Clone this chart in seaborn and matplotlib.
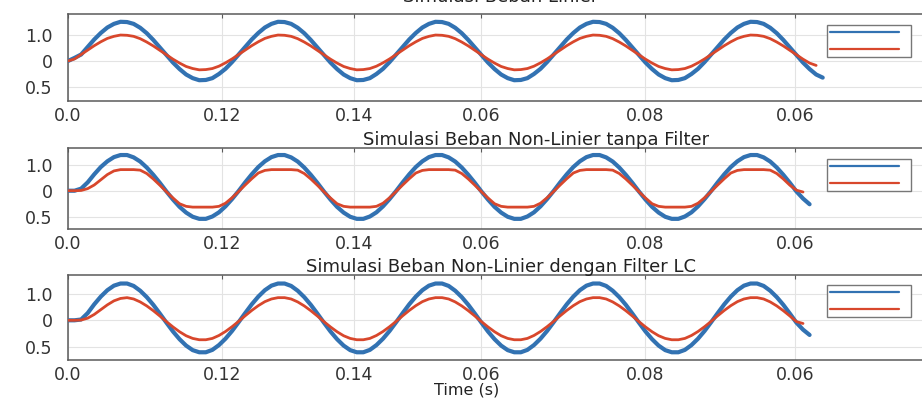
import matplotlib
matplotlib.use("Agg")
import matplotlib.pyplot as plt
from matplotlib.lines import Line2D
import seaborn as sns
import pandas as pd

# ---------------- data ----------------
time_ms = [0, 0.833, 1.667, 2.5, 3.333, 4.167, 5, 5.833, 6.667, 7.5, 8.333, 9.167,
           10, 10.833, 11.667, 12.5, 13.333, 14.167, 15, 15.833, 16.667, 17.5, 18.333, 19.167,
           20, 20.833, 21.667, 22.5, 23.333, 24.167, 25, 25.833, 26.667, 27.5, 28.333, 29.167,
           30, 30.833, 31.667, 32.5, 33.333, 34.167, 35, 35.833, 36.667, 37.5, 38.333, 39.167,
           40, 40.833, 41.667, 42.5, 43.333, 44.167, 45, 45.833, 46.667, 47.5, 48.333, 49.167,
           50, 50.833, 51.667, 52.5, 53.333, 54.167, 55, 55.833, 56.667, 57.5, 58.333, 59.167,
           60, 60.833, 61.667, 62.5, 63.333, 64.167, 65, 65.833, 66.667, 67.5, 68.333, 69.167,
           70, 70.833, 71.667, 72.5, 73.333, 74.167, 75, 75.833, 76.667, 77.5, 78.333, 79.167,
           80, 80.833, 81.667, 82.5, 83.333, 84.167, 85, 85.833, 86.667, 87.5, 88.333, 89.167,
           90, 90.833, 91.667, 92.5, 93.333, 94.167, 95, 95.833, 96.667, 97.5, 98.333, 99.167]

# Panel 1 - Simulasi Beban Linier
p1_blue = [0.0, 0.12, 0.25, 0.54, 0.83, 1.08, 1.29, 1.43, 1.51, 1.50, 1.43, 1.28,
           1.07, 0.81, 0.52, 0.23, -0.06, -0.31, -0.52, -0.66, -0.74, -0.73, -0.66, -0.50,
           -0.30, -0.04, 0.25, 0.54, 0.83, 1.08, 1.29, 1.43, 1.51, 1.50, 1.43, 1.28,
           1.07, 0.81, 0.52, 0.23, -0.06, -0.31, -0.52, -0.66, -0.74, -0.73, -0.66, -0.50,
           -0.30, -0.04, 0.25, 0.54, 0.83, 1.08, 1.29, 1.43, 1.51, 1.50, 1.43, 1.28,
           1.07, 0.81, 0.52, 0.23, -0.06, -0.31, -0.52, -0.66, -0.74, -0.73, -0.66, -0.50,
           -0.30, -0.04, 0.25, 0.54, 0.83, 1.08, 1.29, 1.43, 1.51, 1.50, 1.43, 1.28,
           1.07, 0.81, 0.52, 0.23, -0.06, -0.31, -0.52, -0.66, -0.74, -0.73, -0.66, -0.50,
           -0.30, -0.04, 0.25, 0.54, 0.83, 1.08, 1.29, 1.43, 1.51, 1.50, 1.43, 1.28,
           1.07, 0.81, 0.52, 0.23, -0.06, -0.31, -0.52, -0.64]
p1_red = [0.0, 0.08, 0.25, 0.42, 0.59, 0.74, 0.87, 0.95, 1.00, 0.99, 0.95, 0.86,
          0.73, 0.58, 0.41, 0.24, 0.07, -0.08, -0.21, -0.29, -0.34, -0.33, -0.29, -0.20,
          -0.07, 0.08, 0.25, 0.42, 0.59, 0.74, 0.87, 0.95, 1.00, 0.99, 0.95, 0.86,
          0.73, 0.58, 0.41, 0.24, 0.07, -0.08, -0.21, -0.29, -0.34, -0.33, -0.29, -0.20,
          -0.07, 0.08, 0.25, 0.42, 0.59, 0.74, 0.87, 0.95, 1.00, 0.99, 0.95, 0.86,
          0.73, 0.58, 0.41, 0.24, 0.07, -0.08, -0.21, -0.29, -0.34, -0.33, -0.29, -0.20,
          -0.07, 0.08, 0.25, 0.42, 0.59, 0.74, 0.87, 0.95, 1.00, 0.99, 0.95, 0.86,
          0.73, 0.58, 0.41, 0.24, 0.07, -0.08, -0.21, -0.29, -0.34, -0.33, -0.29, -0.20,
          -0.07, 0.08, 0.25, 0.42, 0.59, 0.74, 0.87, 0.95, 1.00, 0.99, 0.95, 0.86,
          0.73, 0.58, 0.41, 0.24, 0.07, -0.08, -0.17]

# Panel 2 - Non-Linier tanpa Filter
p2_blue = [0.0, 0.0, 0.08, 0.32, 0.63, 0.91, 1.13, 1.29, 1.37, 1.37, 1.28, 1.12,
           0.89, 0.61, 0.30, -0.03, -0.34, -0.62, -0.84, -1.00, -1.08, -1.08, -0.99, -0.83,
           -0.60, -0.32, -0.01, 0.32, 0.63, 0.91, 1.13, 1.29, 1.37, 1.37, 1.28, 1.12,
           0.89, 0.61, 0.30, -0.03, -0.34, -0.62, -0.84, -1.00, -1.08, -1.08, -0.99, -0.83,
           -0.60, -0.32, -0.01, 0.32, 0.63, 0.91, 1.13, 1.29, 1.37, 1.37, 1.28, 1.12,
           0.89, 0.61, 0.30, -0.03, -0.34, -0.62, -0.84, -1.00, -1.08, -1.08, -0.99, -0.83,
           -0.60, -0.32, -0.01, 0.32, 0.63, 0.91, 1.13, 1.29, 1.37, 1.37, 1.28, 1.12,
           0.89, 0.61, 0.30, -0.03, -0.34, -0.62, -0.84, -1.00, -1.08, -1.08, -0.99, -0.83,
           -0.60, -0.32, -0.01, 0.32, 0.63, 0.91, 1.13, 1.29, 1.37, 1.37, 1.28, 1.12,
           0.89, 0.61, 0.30, -0.03, -0.30, -0.52]
p2_red = [0.0, 0.0, 0.01, 0.08, 0.22, 0.42, 0.62, 0.76, 0.81, 0.81, 0.81, 0.79,
          0.66, 0.45, 0.21, -0.04, -0.28, -0.50, -0.60, -0.63, -0.63, -0.63, -0.63, -0.60,
          -0.48, -0.27, -0.03, 0.22, 0.46, 0.68, 0.78, 0.81, 0.81, 0.81, 0.81, 0.79,
          0.66, 0.45, 0.21, -0.04, -0.28, -0.50, -0.60, -0.63, -0.63, -0.63, -0.63, -0.60,
          -0.48, -0.27, -0.03, 0.22, 0.46, 0.68, 0.78, 0.81, 0.81, 0.81, 0.81, 0.79,
          0.66, 0.45, 0.21, -0.04, -0.28, -0.50, -0.60, -0.63, -0.63, -0.63, -0.63, -0.60,
          -0.48, -0.27, -0.03, 0.22, 0.46, 0.68, 0.78, 0.81, 0.81, 0.81, 0.81, 0.79,
          0.66, 0.45, 0.21, -0.04, -0.28, -0.50, -0.60, -0.63, -0.63, -0.63, -0.63, -0.60,
          -0.48, -0.27, -0.03, 0.22, 0.46, 0.68, 0.78, 0.81, 0.81, 0.81, 0.81, 0.79,
          0.66, 0.45, 0.21, 0.02, -0.05]

# Panel 3 - Non-Linier dengan Filter LC
p3_blue = [0.0, 0.0, 0.03, 0.27, 0.60, 0.89, 1.13, 1.30, 1.38, 1.38, 1.29, 1.11,
           0.87, 0.58, 0.25, -0.09, -0.42, -0.71, -0.95, -1.12, -1.20, -1.20, -1.11, -0.93,
           -0.69, -0.40, -0.07, 0.27, 0.60, 0.89, 1.13, 1.30, 1.38, 1.38, 1.29, 1.11,
           0.87, 0.58, 0.25, -0.09, -0.42, -0.71, -0.95, -1.12, -1.20, -1.20, -1.11, -0.93,
           -0.69, -0.40, -0.07, 0.27, 0.60, 0.89, 1.13, 1.30, 1.38, 1.38, 1.29, 1.11,
           0.87, 0.58, 0.25, -0.09, -0.42, -0.71, -0.95, -1.12, -1.20, -1.20, -1.11, -0.93,
           -0.69, -0.40, -0.07, 0.27, 0.60, 0.89, 1.13, 1.30, 1.38, 1.38, 1.29, 1.11,
           0.87, 0.58, 0.25, -0.09, -0.42, -0.71, -0.95, -1.12, -1.20, -1.20, -1.11, -0.93,
           -0.69, -0.40, -0.07, 0.27, 0.60, 0.89, 1.13, 1.30, 1.38, 1.38, 1.29, 1.11,
           0.87, 0.58, 0.25, -0.09, -0.35, -0.55]
p3_red = [0.0, 0.0, 0.01, 0.08, 0.22, 0.40, 0.58, 0.73, 0.82, 0.85, 0.80, 0.69,
          0.54, 0.36, 0.16, -0.05, -0.25, -0.43, -0.58, -0.68, -0.73, -0.73, -0.68, -0.57,
          -0.42, -0.24, -0.04, 0.17, 0.37, 0.55, 0.70, 0.80, 0.85, 0.85, 0.80, 0.69,
          0.54, 0.36, 0.16, -0.05, -0.25, -0.43, -0.58, -0.68, -0.73, -0.73, -0.68, -0.57,
          -0.42, -0.24, -0.04, 0.17, 0.37, 0.55, 0.70, 0.80, 0.85, 0.85, 0.80, 0.69,
          0.54, 0.36, 0.16, -0.05, -0.25, -0.43, -0.58, -0.68, -0.73, -0.73, -0.68, -0.57,
          -0.42, -0.24, -0.04, 0.17, 0.37, 0.55, 0.70, 0.80, 0.85, 0.85, 0.80, 0.69,
          0.54, 0.36, 0.16, -0.05, -0.25, -0.43, -0.58, -0.68, -0.73, -0.73, -0.68, -0.57,
          -0.42, -0.24, -0.04, 0.17, 0.37, 0.55, 0.70, 0.80, 0.85, 0.85, 0.80, 0.69,
          0.54, 0.36, 0.16, -0.05, -0.12]

titles = ["Simulasi Beban Linier",
          "Simulasi Beban Non-Linier tanpa Filter",
          "Simulasi Beban Non-Linier dengan Filter LC"]
xtick_pos = [0.0, 0.01956, 0.03632, 0.05244, 0.07327, 0.09232]
xtick_labels = ["0.0", "0.12", "0.14", "0.06", "0.08", "0.06"]
ytick_pos = [1, 0, -1]
ytick_labels = ["1.0", "0", "0.5"]
x_label = "Time (s)"

# ---------------- style ----------------
sns.set_theme(style="whitegrid")
plt.rcParams["font.family"] = ["DejaVu Sans"]
BLUE = "#3272b2"
RED = "#d8472c"
SPINE = "#5a5a5a"
TXT = "#333333"

W, H = 922, 399
fig = plt.figure(figsize=(W / 100, H / 100), dpi=100)
fig.patch.set_facecolor("white")

boxes = [(14, 101), (148, 229), (275, 360)]          # (top, bottom) in px
ylims = [(-1.54, 1.81), (-1.47, 1.64), (-1.49, 1.70)]
left_px, right_px = 68, 952
xmax = 0.11225
title_x = [0.489, 0.530, 0.49]
title_pad = [8.6, 2.5, 2.5]
legend_tops = [25, 159, 285]

series = [(p1_blue, p1_red), (p2_blue, p2_red), (p3_blue, p3_red)]

for i, ((top, bot), (blue, red)) in enumerate(zip(boxes, series)):
    ax = fig.add_axes([left_px / W, 1 - bot / H, (right_px - left_px) / W, (bot - top) / H])
    ax.set_facecolor("white")
    df_b = pd.DataFrame({"t": [v / 1000 for v in time_ms[:len(blue)]], "v": blue})
    df_r = pd.DataFrame({"t": [v / 1000 for v in time_ms[:len(red)]], "v": red})
    sns.lineplot(data=df_b, x="t", y="v", ax=ax, color=BLUE, linewidth=3.0,
                 legend=False, zorder=3)
    sns.lineplot(data=df_r, x="t", y="v", ax=ax, color=RED, linewidth=2.0,
                 legend=False, zorder=4)
    ax.set_xlim(0, xmax)
    ax.set_ylim(*ylims[i])
    ax.set_xticks(xtick_pos)
    ax.set_xticklabels(xtick_labels)
    ax.set_yticks(ytick_pos)
    ax.set_yticklabels(ytick_labels)
    ax.set_xlabel("")
    ax.set_ylabel("")
    ax.grid(True, color="#e3e3e3", linewidth=0.8)
    for sp in ax.spines.values():
        sp.set_color(SPINE)
        sp.set_linewidth(1.1)
        sp.set_visible(True)
    ax.tick_params(axis="both", direction="in", length=3, width=0.8, color=SPINE,
                   labelsize=12.5, labelcolor=TXT, top=True, right=True)
    ax.tick_params(axis="x", pad=4)
    ax.tick_params(axis="y", pad=11)
    ax.set_title(titles[i], fontsize=13, color="#222222", x=title_x[i], pad=title_pad[i])

    handles = [Line2D([], [], color=BLUE, linewidth=1.6), Line2D([], [], color=RED, linewidth=1.6)]
    leg = ax.legend(handles=handles, labels=[" ", " "], loc="upper left",
                    bbox_to_anchor=(827 / W, 1 - legend_tops[i] / H),
                    bbox_transform=fig.transFigure, borderaxespad=0, frameon=True,
                    fancybox=False, fontsize=6, handlelength=8.2, handletextpad=0.8,
                    borderpad=0.4, labelspacing=0.9)
    leg.get_frame().set_edgecolor("#777777")
    leg.get_frame().set_linewidth(1.0)
    leg.get_frame().set_facecolor("white")
    leg.get_frame().set_alpha(1)

    if i == 2:
        ax.set_xlabel(x_label, fontsize=11.5, color="#222222")
        ax.xaxis.set_label_coords(0.451, -0.27)

fig.savefig("out.png", dpi=100, facecolor="white")
